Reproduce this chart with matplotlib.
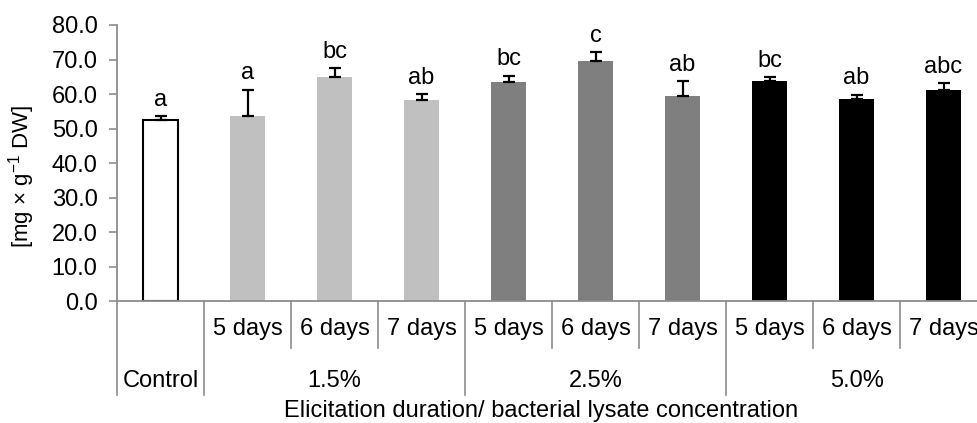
import numpy as np
import matplotlib
matplotlib.use("Agg")
import matplotlib.pyplot as plt
import matplotlib.transforms as mtransforms

plt.rcParams['font.family'] = ['Liberation Sans', 'DejaVu Sans']
plt.rcParams['mathtext.fontset'] = 'custom'
plt.rcParams['mathtext.rm'] = 'Liberation Sans'

# mean content and upper SD for each treatment
groups = ['Control', '1.5%', '2.5%', '5.0%']
days = ['5 days', '6 days', '7 days']
means = [52.4, 53.6, 64.9, 58.3, 63.6, 69.5, 59.5, 63.9, 58.6, 61.1]
errors = [1.2, 7.7, 2.5, 1.6, 1.7, 2.6, 4.2, 0.9, 1.1, 2.0]
letters = ['a', 'a', 'bc', 'ab', 'bc', 'c', 'ab', 'bc', 'ab', 'abc']
colors = ['white'] + ['#c0c0c0'] * 3 + ['#7f7f7f'] * 3 + ['black'] * 3

fs = 17

fig = plt.figure(figsize=(9.77, 4.23), dpi=100)
ax = fig.add_axes([0.1198, 0.2884, 0.8905, 0.6525])

x = np.arange(len(means)) + 0.5
edge = ['black'] + ['none'] * 9
ax.bar(x, means, width=0.4, color=colors, edgecolor=edge, linewidth=1.5, zorder=2)
ax.errorbar(x, means, yerr=[np.zeros(len(errors)), errors], fmt='none',
            ecolor='black', elinewidth=1.6, capsize=4.5, capthick=1.6, zorder=3)

for xi, m, e, lab in zip(x, means, errors, letters):
    ax.annotate(lab, (xi, m + e), xytext=(0, 4), textcoords='offset points',
                ha='center', va='bottom', fontsize=fs)

ax.set_xlim(0, len(means))
ax.set_ylim(0, 80)
ax.set_yticks(np.arange(0, 81, 10))
ax.set_yticklabels([f'{v:.1f}' for v in np.arange(0, 81, 10)], fontsize=fs)
ax.set_xticks([])
ax.tick_params(axis='y', direction='out', length=6, width=1.2, color='#8c8c8c', pad=8)

for s in ['top', 'right']:
    ax.spines[s].set_visible(False)
for s in ['left', 'bottom']:
    ax.spines[s].set_color('#8c8c8c')
    ax.spines[s].set_linewidth(1.3)

fig.text(22 / 977, 0.584, r'[mg × g$^{\mathrm{-1}}$ DW]', rotation=90,
         ha='center', va='center', fontsize=16)

# category table under the axis
trans = mtransforms.blended_transform_factory(ax.transData, ax.transAxes)
line_kw = dict(color='#8c8c8c', lw=1.2, transform=trans, clip_on=False)
group_edges = [0, 1, 4, 7, 10]
for b in group_edges:
    ax.plot([b, b], [0, -0.34], **line_kw)
for b in [2, 3, 5, 6, 8, 9]:
    ax.plot([b, b], [0, -0.17], **line_kw)

for i in range(1, len(means)):
    ax.text(i + 0.5, -0.10, days[(i - 1) % 3], transform=trans,
            ha='center', va='center', fontsize=fs)

group_centers = [0.5, 2.5, 5.5, 8.5]
for gx, g in zip(group_centers, groups):
    ax.text(gx, -0.29, g, transform=trans, ha='center', va='center', fontsize=fs)

ax.text(0.4875, -0.40, 'Elicitation duration/ bacterial lysate concentration',
        transform=ax.transAxes, ha='center', va='center', fontsize=fs)

fig.savefig('out.png', dpi=100)
